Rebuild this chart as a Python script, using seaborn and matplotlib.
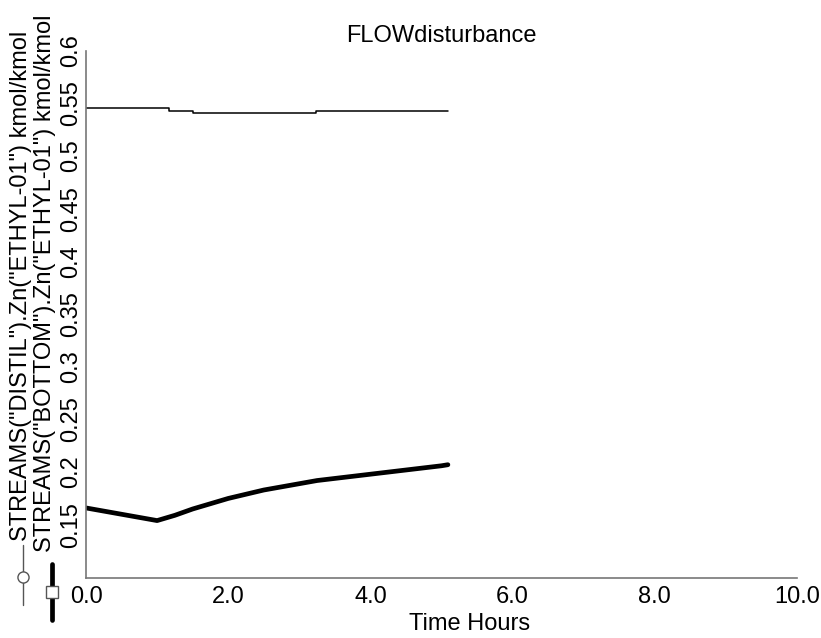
import numpy as np
import pandas as pd
import seaborn as sns
import matplotlib.pyplot as plt
from matplotlib.lines import Line2D

# data
distil_t = [0.0, 1.17, 1.50, 3.24, 5.09]
distil_v = [0.5451, 0.5429, 0.5410, 0.5429, 0.5429]

bottom_t = [0.0, 0.25, 0.5, 0.75, 1.0, 1.25, 1.5, 1.75, 2.0, 2.25, 2.5,
            2.75, 3.0, 3.25, 3.5, 3.75, 4.0, 4.25, 4.5, 4.75, 5.0, 5.09]
bottom_v = [0.166, 0.163, 0.160, 0.157, 0.154, 0.159, 0.165, 0.170, 0.175,
            0.179, 0.183, 0.186, 0.189, 0.192, 0.194, 0.196, 0.198, 0.200,
            0.202, 0.204, 0.206, 0.207]

xticks = [0.0, 2.0, 4.0, 6.0, 8.0, 10.0]
yticks = [0.15, 0.2, 0.25, 0.3, 0.35, 0.4, 0.45, 0.5, 0.55, 0.6]

label_distil = 'STREAMS("DISTIL").Zn("ETHYL-01") kmol/kmol'
label_bottom = 'STREAMS("BOTTOM").Zn("ETHYL-01") kmol/kmol'

sns.set_theme(style="white")
plt.rcParams['font.family'] = ['Liberation Sans', 'DejaVu Sans']
plt.rcParams['text.color'] = 'black'
plt.rcParams['axes.labelcolor'] = 'black'
fs = 17

df_d = pd.DataFrame({'t': distil_t, 'v': distil_v})
df_b = pd.DataFrame({'t': bottom_t, 'v': bottom_v})

fig = plt.figure(figsize=(8.21, 6.38), dpi=100)
ax = fig.add_axes([86/821, 1-577.5/638, (797-86)/821, (577.5-50.5)/638])

sns.lineplot(data=df_d, x='t', y='v', ax=ax, color='black', lw=1.1,
             drawstyle='steps-post')
sns.lineplot(data=df_b, x='t', y='v', ax=ax, color='black', lw=3.4)

ax.set_xlim(0, 10)
ax.set_ylim(0.1, 0.6)
ax.set_xticks(xticks)
ax.set_xticklabels(['%.1f' % x for x in xticks])
ax.set_yticks(yticks)
ax.set_yticklabels(['%g' % y for y in yticks], rotation=90, va='center')
ax.tick_params(direction='in', length=7, width=1, colors='black',
               labelsize=fs, pad=6)
ax.tick_params(axis='y', pad=3)
for s in ['top', 'right']:
    ax.spines[s].set_visible(False)
for s in ['left', 'bottom']:
    ax.spines[s].set_color('#777777')
    ax.spines[s].set_linewidth(1.2)

ax.set_title('FLOWdisturbance', fontsize=fs, pad=6)
ax.set_xlabel('Time Hours', fontsize=fs)
ax.xaxis.set_label_coords(0.54, -0.068)
ax.set_ylabel('')

# rotated legend labels on the left
fig.text(21/821, 1-541/638, label_distil, rotation=90, ha='center',
         va='bottom', fontsize=fs)
fig.text(45/821, 1-552/638, label_bottom, rotation=90, ha='center',
         va='bottom', fontsize=fs)
fig.add_artist(Line2D([23/821, 23/821], [1-545/638, 1-605/638], color='#555555',
                      lw=1, transform=fig.transFigure))
fig.add_artist(Line2D([23/821], [1-577/638], marker='o', ms=8, mfc='white',
                      mec='#555555', transform=fig.transFigure))
fig.add_artist(Line2D([52/821, 52/821], [1-564/638, 1-620/638], color='black',
                      lw=3.4, transform=fig.transFigure))
fig.add_artist(Line2D([52/821], [1-592/638], marker='s', ms=8, mfc='white',
                      mec='#555555', transform=fig.transFigure))

fig.savefig('out.png', dpi=100)
